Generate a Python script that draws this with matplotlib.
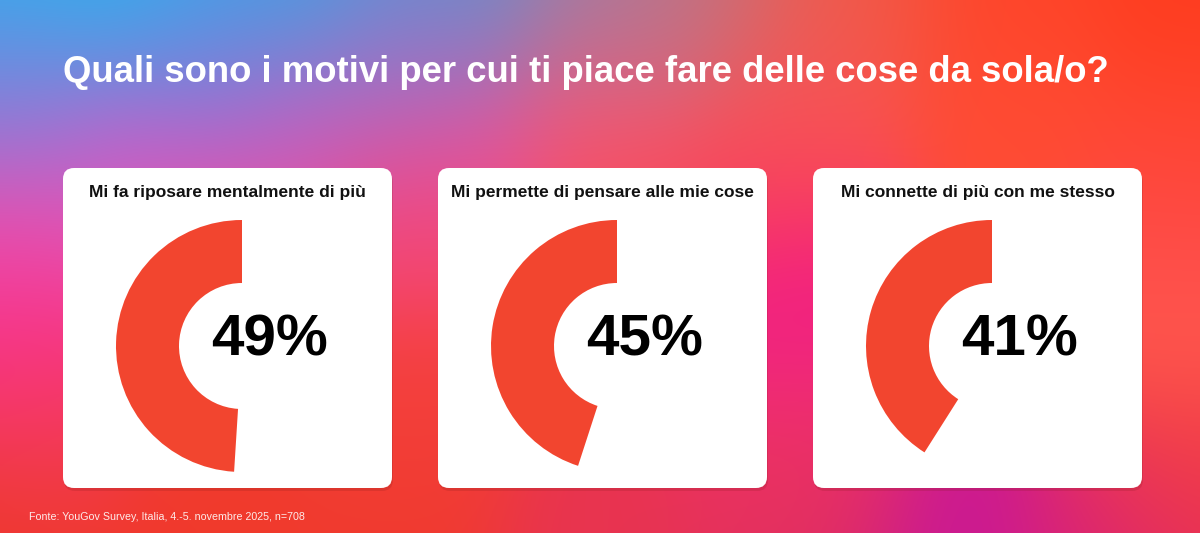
import numpy as np
import matplotlib
matplotlib.use("Agg")
import matplotlib.pyplot as plt
from matplotlib.patches import FancyBboxPatch
from matplotlib.colors import to_rgb

# ---- data ----
title = "Quali sono i motivi per cui ti piace fare delle cose da sola/o?"
categories = ["Mi fa riposare mentalmente di più",
              "Mi permette di pensare alle mie cose",
              "Mi connette di più con me stesso"]
values = [49, 45, 41]
source = "Fonte: YouGov Survey, Italia, 4.-5. novembre 2025, n=708"

W, H = 1200, 533
fig = plt.figure(figsize=(W / 100, H / 100), dpi=100)
bg = fig.add_axes([0, 0, 1, 1])
bg.set_xlim(0, W)
bg.set_ylim(H, 0)
bg.axis("off")

# ---- decorative gradient background (control colours) ----
pts = [
    (0, 0, "#1EBAF2"), (150, 0, "#24B6F0"), (300, 0, "#3AA4E4"), (450, 0, "#5C92CE"),
    (600, 0, "#9A80A8"), (700, 0, "#C87078"), (850, 0, "#F05A48"), (1000, 0, "#FF4428"),
    (1200, 0, "#FF3C1E"),
    (0, 60, "#6C88E0"), (200, 60, "#7A7CDC"), (400, 60, "#A070C8"),
    (0, 120, "#B06CD0"), (150, 150, "#D858C4"), (300, 130, "#D458BC"), (450, 140, "#E850A4"),
    (600, 100, "#F45878"), (800, 100, "#F85458"), (1000, 120, "#FF4C34"), (1200, 130, "#FF4630"),
    (0, 230, "#EC50B0"), (220, 260, "#F24C90"), (410, 230, "#F6446C"), (620, 200, "#F84C58"),
    (780, 180, "#FA4C50"), (790, 270, "#F21888"), (790, 380, "#F02880"), (1180, 230, "#FF4848"),
    (0, 330, "#FA2E8C"), (20, 420, "#F43C60"), (410, 400, "#F4403C"), (790, 470, "#F03858"),
    (1180, 330, "#FF5A50"), (1180, 450, "#F84640"),
    (0, 520, "#EE3828"), (200, 525, "#F03A2C"), (400, 525, "#F03A2E"), (600, 528, "#E83450"),
    (800, 530, "#DC2C60"), (950, 533, "#C81898"), (1100, 533, "#D82278"), (1200, 520, "#E83050"),
]
yy, xx = np.mgrid[0:H:3, 0:W:3]
num = np.zeros(xx.shape + (3,))
den = np.zeros(xx.shape)
sig = 70.0
for px, py, c in pts:
    w = np.exp(-((xx - px) ** 2 + (yy - py) ** 2) / (2 * sig ** 2)) + 1e-12
    num += w[..., None] * np.array(to_rgb(c))
    den += w
img = num / den[..., None]
bg.imshow(img, extent=(0, W, H, 0), aspect="auto", interpolation="bicubic", zorder=0)

# ---- title ----
bg.text(63, 72, title, color="white", fontsize=26.3, fontweight="bold",
        family="Liberation Sans", ha="left", va="center", zorder=3)

# ---- cards ----
card_left = [63, 438, 813]
card_top, card_w, card_h = 168, 329, 320
red = "#F2452F"
R = 126
for i, (cat, v) in enumerate(zip(categories, values)):
    x0 = card_left[i]
    shadow = FancyBboxPatch((x0 + 1, card_top + 3), card_w, card_h,
                            boxstyle="round,pad=0,rounding_size=11",
                            fc=(0.5, 0.1, 0.1, 0.18), ec="none", zorder=1)
    bg.add_patch(shadow)
    card = FancyBboxPatch((x0, card_top), card_w, card_h,
                          boxstyle="round,pad=0,rounding_size=11",
                          fc="white", ec="none", zorder=2)
    bg.add_patch(card)
    bg.text(x0 + card_w / 2, 192, cat, fontsize=12.5, fontweight="bold",
            family="Liberation Sans", color="#111111", ha="center", va="center", zorder=3)
    bg.text(x0 + 207, 341, f"{v}%", fontsize=42, fontweight="bold",
            family="Liberation Sans", color="black", ha="center", va="center", zorder=3)

    cx, cy = x0 + 179, 346
    ax = fig.add_axes([(cx - R) / W, (H - cy - R) / H, 2 * R / W, 2 * R / H])
    ax.pie([v, 100 - v], colors=[red, (1, 1, 1, 0)], startangle=90,
           counterclock=True, radius=1.0,
           wedgeprops=dict(width=0.5, edgecolor="none", linewidth=0))
    ax.set_xlim(-1, 1)
    ax.set_ylim(-1, 1)
    ax.set_aspect("equal")
    ax.axis("off")

# ---- source ----
bg.text(29, 517, source, fontsize=7.7, color=(1, 1, 1, 0.9),
        family="Liberation Sans", ha="left", va="center", zorder=3)

fig.savefig("out.png", dpi=100)
